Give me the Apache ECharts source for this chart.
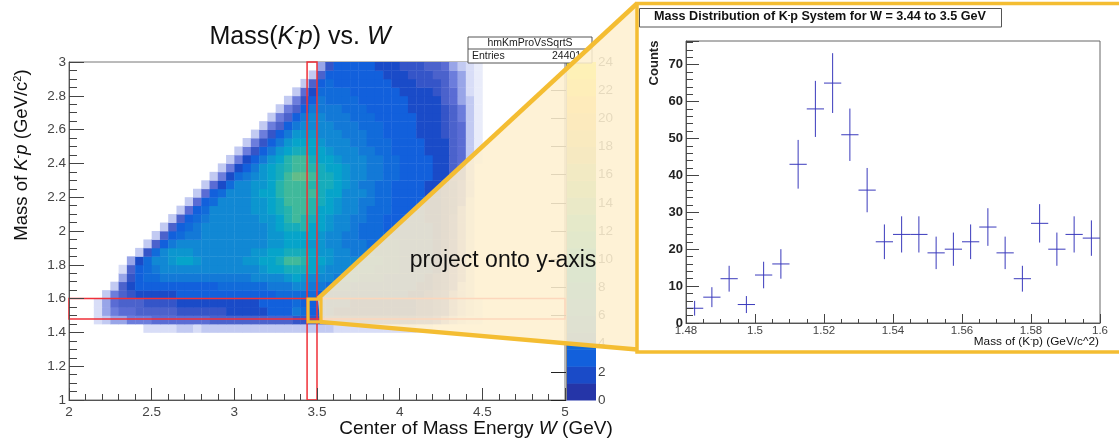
<!DOCTYPE html>
<html><head><meta charset="utf-8">
<style>html,body{margin:0;padding:0;background:#fff}#c{width:1119px;height:445px;filter:blur(0.45px)}</style>
<script src="https://cdn.jsdelivr.net/npm/echarts@6/dist/echarts.min.js"></script>
</head><body><div id="c"></div>
<script>
// ---------- histogram on the right ----------
const binLow = [1.48,1.485,1.49,1.495,1.5,1.505,1.51,1.515,1.52,1.525,1.53,1.535,1.54,1.545,1.55,1.555,1.56,1.565,1.57,1.575,1.58,1.585,1.59,1.595];
const counts = [4,7,12,5,13,16,43,58,65,51,36,22,24,24,19,20,22,26,19,12,27,20,24,23];
const errors = [2,2.7,3.5,2.3,3.6,4,6.6,7.6,8.1,7.1,6,4.7,4.9,4.9,4.4,4.5,4.7,5.1,4.4,3.5,5.2,4.5,4.9,4.8];
const BIN_W = 0.005;
// ---------- 2D density, read cell by cell; W starts at 2.00, steps 0.05 ----------
const massLow = [1.40,1.45,1.50,1.55,1.60,1.65,1.70,1.75,1.80,1.85,1.90,1.95,2.00,2.05,2.10,2.15,2.20,2.25,2.30,2.35,2.40,2.45,2.50,2.55,2.60,2.65,2.70,2.75,2.80,2.85,2.90,2.95];
const CELL = 0.05;
const density = [
[0,0,0,0,0,0,0,0,0,.2,.2,.2,.2,.3,.3,.2,.3,.3,.3,.3,.3,.3,.3,.3,.3,.3,.3,.3,.3,.3,.3,.3,.2,.2,.2,.2,.2,.2,.2,.2,.2,.2,.1,.1],
[0,0,0,.2,.3,.5,.5,.6,.6,.7,.8,.8,.8,.8,.9,.9,.9,1,1,1,1,1,1,1,1,1.2,1.2,1.5,1.5,1.5,1.5,1.2,1,1,1,1,1,1,1,1,1,1,.8,.8,.6,.4,.3,.2,.1,.1],
[0,0,0,.2,.5,.7,.9,.9,1,1.2,1.2,1.2,1.2,1.3,1.3,1.5,1.5,1.5,1.5,1.7,1.8,2,2,2,2.5,3,3.5,5,4,3,3,2.5,2,2,2,2,2,2,2,2,2,2,1.5,1.5,1,.8,.5,.3,.2,.1],
[0,0,0,.2,.5,.9,1,1.2,1.2,1.3,1.5,1.5,1.5,1.7,1.7,1.7,1.8,1.8,2,2,2,2.2,2.2,2.5,2.5,3,3.5,4,3.5,3,3,2.8,2.5,2.5,2.2,2.2,2,2,2,2,2,2,1.5,1.5,1,.8,.5,.3,.2,.1],
[0,0,0,0,.3,.7,1.2,1.5,1.7,2,2,2.2,2.2,2.5,2.5,2.5,2.7,2.7,2.7,3,3,3,3.2,3.2,3.5,4,4,4.5,4,4,3.5,3.2,3,3,3,3,2.8,2.8,2.5,2.5,2.5,2,2,1.5,1.2,.8,.5,.3,.2],
[0,0,0,0,0,.3,1,2,2.5,3,3.5,3.5,3.5,3.5,3.5,3.5,3.5,3.5,4,4,4,4,4,4.5,5,5,5.5,6,6,5.5,5,4.5,4,4,3.5,3.5,3.5,3,3,3,3,2.5,2,2,1.5,1,.6,.3,.2],
[0,0,0,0,0,0,.4,1.5,3,4,4.5,5,5,5,5,5,5,5,5,5.5,5.5,5.5,6,6,7,7,8,8.5,8,7,6.5,6,5.5,5,5,4.5,4,4,3.5,3.5,3,3,2.5,2,1.5,1,.7,.4,.2],
[0,0,0,0,0,0,.2,1,2.5,4.5,5.5,6,6.5,6.5,6.5,6,6,6,6,6,6.5,6.5,7,7.5,8.5,9,10,10.5,10,8.5,8,7,6.5,6,5.5,5,5,4.5,4,4,3.5,3,3,2.5,2,1,.7,.4,.2],
[0,0,0,0,0,0,0,.5,2,4,6,7,8,9,8.5,7.5,7,7,6.5,6.5,7,7.5,8,8.5,9.5,10,12,12.5,11,9,9,8,7,6.5,6,5.5,5,5,4.5,4,3.5,3,3,2.5,2,1.2,.8,.4,.2],
[0,0,0,0,0,0,0,0,.3,1.5,4,6,7.5,8,7.5,7,6.5,6.5,6.5,6.5,6.5,7,7.5,8,8.5,9,10,10.5,10,8.5,8,7.5,6.5,6,5.5,5,5,4.5,4,4,3.5,3,2.5,2.5,2,1.2,.8,.4,.2],
[0,0,0,0,0,0,0,0,0,.3,1.2,3.5,5,6,6,6,6,6,6,6,6,6.5,7,7,7.5,8,8.5,9,9,8,7.5,7,6.5,5.5,5,5,4.5,4.5,4,4,3.5,3,2.5,2.5,2,1.5,.8,.4,.2],
[0,0,0,0,0,0,0,0,0,0,.3,1,3,4.5,5.5,5.5,6,6,6,6,6,6,6.5,7,7.5,8,8.5,9.5,9.5,8.5,8,7,6.5,5.5,5,4.5,4.5,4,4,3.5,3.5,3,2.5,2.5,2,1.5,.8,.5,.2],
[0,0,0,0,0,0,0,0,0,0,0,.3,1,3,4.5,5.5,6,6,6,6,6.5,6.5,7,7,8,9,10,10.5,11,9.5,8.5,7.5,6.5,6,5,4.5,4.5,4,3.5,3.5,3,3,2.5,2.5,2,1.5,.8,.5,.2],
[0,0,0,0,0,0,0,0,0,0,0,0,.3,1,2.5,4.5,5.5,6,6,6,6.5,6.5,7,7.5,8,9.5,11,12,11.5,10,9,8,7,6,5.5,5,4.5,4,3.5,3.5,3,2.5,2.5,2,2,1.5,.9,.5,.2],
[0,0,0,0,0,0,0,0,0,0,0,0,0,.3,.8,2.5,4.5,6,6.5,6.5,7,7,7.5,8,9,10,11.5,12.5,12,11,9.5,8.5,7.5,6.5,6,5,4.5,4.5,4,3.5,3,3,2.5,2,2,1.5,1,.5,.2],
[0,0,0,0,0,0,0,0,0,0,0,0,0,0,.3,.8,2.5,4.5,6,6.5,7,7,7.5,8,9,10.5,12,12.5,12,11,10,9,8,7,6,5.5,5,4.5,4,3.5,3,3,2.5,2,2,1.5,1,.6,.2],
[0,0,0,0,0,0,0,0,0,0,0,0,0,0,0,.3,.8,2.5,4.5,6,7,7,7.5,8.5,9.5,11,12.5,13,12.5,12,10.5,9.5,8.5,7,6.5,6,5,4.5,4,3.5,3,2.5,2.5,2,2,1.5,1,.6,.3],
[0,0,0,0,0,0,0,0,0,0,0,0,0,0,0,0,.3,.8,2,4,6,7,7.5,8,9.5,11,12,13,12.5,11,10.5,10,9,7.5,6.5,5.5,5,4.5,4,3.5,3,2.5,2.5,2,2,1.5,1.2,.7,.3],
[0,0,0,0,0,0,0,0,0,0,0,0,0,0,0,0,0,.3,.7,2,4,5.5,7,8,9,10.5,12,13.5,13.5,12,10.5,10,9.5,8,7,6,5.5,5,4.5,4,3.5,3,2.5,2.5,2,2,1.2,.8,.3],
[0,0,0,0,0,0,0,0,0,0,0,0,0,0,0,0,0,0,.3,.7,2,3.5,5.5,7.5,8.5,10,11.5,13,13,11.5,10,9.5,8.5,7.5,7,6,5.5,5,4.5,4,3.5,3,2.5,2.5,2,2,1.2,.8,.3],
[0,0,0,0,0,0,0,0,0,0,0,0,0,0,0,0,0,0,0,.3,.7,1.8,3.5,5.5,8,9.5,11,12,12,10.5,9.5,9,8,7,6.5,6,5.5,5,4.5,4,3.5,3,2.5,2.5,2,2,1.2,.8,.3,.1],
[0,0,0,0,0,0,0,0,0,0,0,0,0,0,0,0,0,0,0,0,.3,.7,1.5,3.5,5.5,8,9.5,10,10.5,9.5,8.5,8,7,6.5,6,5.5,5,4.5,4,3.5,3,3,2.5,2,2,1.8,1.2,.8,.3,.1],
[0,0,0,0,0,0,0,0,0,0,0,0,0,0,0,0,0,0,0,0,0,.3,.7,1.5,3.5,5.5,8,9,9.5,8.5,7.5,7,6.5,6,5.5,5,4.5,4.5,4,3.5,3,2.5,2.5,2,2,1.8,1.2,.8,.3,.1],
[0,0,0,0,0,0,0,0,0,0,0,0,0,0,0,0,0,0,0,0,0,0,.3,.6,1.5,3,5.5,8,8,7.5,7,6.5,6,5.5,5,5,4.5,4,3.5,3,3,2.5,2,2,2,1.5,1.2,.8,.3,.1],
[0,0,0,0,0,0,0,0,0,0,0,0,0,0,0,0,0,0,0,0,0,0,0,.3,.6,1.2,3,5.5,7,6.5,6.5,6,5.5,5,5,4.5,4,4,3.5,3,2.5,2.5,2,2,2,1.5,1.2,.8,.3,.1],
[0,0,0,0,0,0,0,0,0,0,0,0,0,0,0,0,0,0,0,0,0,0,0,0,.3,.6,1.2,3,5,6,6,5.5,5,5,4.5,4.5,4,3.5,3.5,3,2.5,2.5,2,2,1.8,1.5,1,.6,.3,.1],
[0,0,0,0,0,0,0,0,0,0,0,0,0,0,0,0,0,0,0,0,0,0,0,0,0,.3,.6,1.2,3,5,5.5,5,5,4.5,4.5,4,3.5,3.5,3,3,2.5,2,2,2,1.8,1.5,1,.6,.3,.1],
[0,0,0,0,0,0,0,0,0,0,0,0,0,0,0,0,0,0,0,0,0,0,0,0,0,0,.3,.6,1.5,3.5,5,4.5,4.5,4,4,3.5,3.5,3,3,2.5,2.5,2,2,1.8,1.8,1.2,.9,.5,.3,.1],
[0,0,0,0,0,0,0,0,0,0,0,0,0,0,0,0,0,0,0,0,0,0,0,0,0,0,0,.3,.8,2,4,4.5,4,4,3.5,3.5,3,3,2.5,2.5,2,2,1.8,1.8,1.5,1.2,.8,.5,.2,.1],
[0,0,0,0,0,0,0,0,0,0,0,0,0,0,0,0,0,0,0,0,0,0,0,0,0,0,0,0,.3,1,2.5,4,3.5,3.5,3,3,3,2.5,2.5,2,2,2,1.5,1.5,1.5,1,.7,.4,.2,.1],
[0,0,0,0,0,0,0,0,0,0,0,0,0,0,0,0,0,0,0,0,0,0,0,0,0,0,0,0,0,.3,1,2.5,3,3,3,2.5,2.5,2.5,2,2,2,1.5,1.5,1.5,1.2,1,.6,.4,.2,.1],
[0,0,0,0,0,0,0,0,0,0,0,0,0,0,0,0,0,0,0,0,0,0,0,0,0,0,0,0,0,0,.5,1.5,2.5,2.5,2.5,2.5,2.5,2,2,2,1.5,1.5,1.5,1.2,1,.8,.5,.3,.2,.1]
];
// ---------- ROOT-style palette and colour bar ----------
const levelColors = ['#2535A8','#1A4BC8','#1260DC','#116BDA','#1379D7','#1188D4','#0C96CF','#06A4CA','#16ACBB','#26B3AC','#40B99B','#63BC89','#87BF77','#A5BD6B','#C2BC5F','#DABE51','#ECC342','#FEC832','#FCDC24','#FAF115'];
const LEVEL_W = 1.2;
const sparseStops = [.1,.2,.3,.5,.7,.9,1.2,1.6];
const sparseColors = ['#e9ecfa','#d8ddf7','#c2caf2','#98a5e8','#6c7ddc','#5a6cd4','#4b62cc','#3555c8'];
const levelIndex = levelColors.map((c,i)=>i);
// ---------- ranges and highlight boxes ----------
const wBand = [3.44,3.5];
const massBand = [1.48,1.6];
const massRange = [1,3];
const wRange = [2,5];

function cellColor(v){
  for(let i=0;i<sparseStops.length;i++) if(v<=sparseStops[i]) return sparseColors[i];
  return levelColors[Math.min(levelColors.length-1,Math.floor(v/LEVEL_W))];
}
const heatData=[];
density.forEach((row,r)=>row.forEach((v,c)=>{ if(v>0) heatData.push([2+c*CELL,massLow[r],v]); }));

const FONT='"Liberation Sans",Arial,Helvetica,sans-serif';
const axisGray='#444';
function rectClip(params,api,a,b,style){
  const p0=api.coord(a),p1=api.coord(b);
  return {type:'rect',shape:{x:p0[0],y:p1[1],width:p1[0]-p0[0],height:p0[1]-p1[1]},style};
}
const chart=echarts.init(document.getElementById('c'),null,{renderer:'canvas'});
const option={
  animation:false,
  backgroundColor:'#fff',
  textStyle:{fontFamily:FONT},
  title:{
    left:295,top:20,textAlign:'center',
    text:'{a|Mass(}{i|K}{s|-}{i|p}{a|) vs. }{i|W}',
    textStyle:{fontWeight:'normal',rich:{
      a:{fontSize:25,fontWeight:'normal',fontFamily:FONT,color:'#111'},
      i:{fontSize:25,fontWeight:'normal',fontFamily:FONT,fontStyle:'italic',color:'#111'},
      s:{fontSize:14,fontWeight:'normal',fontFamily:FONT,color:'#111',verticalAlign:'top',padding:[0,0,8,0]}
    }}
  },
  grid:[
    {left:69,top:62,width:496,height:338,show:true,borderColor:'#777',borderWidth:1,backgroundColor:'#fff'},
    {left:566,top:62,width:30,height:338},
    {left:686,top:41,width:414,height:282,show:true,borderColor:'#666',borderWidth:1,backgroundColor:'#fff'}
  ],
  xAxis:[
    {gridIndex:0,type:'value',min:wRange[0],max:wRange[1],interval:.5,z:5,splitLine:{show:false},
     axisLine:{lineStyle:{color:'#555'}},axisTick:{inside:true,length:12,lineStyle:{color:'#444'}},
     minorTick:{show:true,splitNumber:5,length:6,lineStyle:{color:'#444'}},
     axisLabel:{fontSize:13.5,color:axisGray,margin:5,fontFamily:FONT,showMinLabel:true,showMaxLabel:true}},
    {gridIndex:1,type:'value',min:0,max:1,show:false},
    {gridIndex:2,type:'value',min:1.48,max:1.6,interval:.02,z:5,splitLine:{show:false},
     axisLine:{lineStyle:{color:'#555'}},axisTick:{inside:true,length:9,lineStyle:{color:'#444'}},
     minorTick:{show:true,splitNumber:4,length:4,lineStyle:{color:'#444'}},
     axisLabel:{fontSize:11.5,color:axisGray,margin:2,fontFamily:FONT,showMinLabel:true,showMaxLabel:true,
       formatter:v=>String(+v.toFixed(2))}}
  ],
  yAxis:[
    {gridIndex:0,type:'value',min:massRange[0],max:massRange[1],interval:.2,z:5,splitLine:{show:false},
     axisLine:{lineStyle:{color:'#555'}},axisTick:{inside:true,length:15,lineStyle:{color:'#444'}},
     minorTick:{show:true,splitNumber:4,length:8,lineStyle:{color:'#444'}},
     axisLabel:{fontSize:13.5,color:axisGray,margin:3,fontFamily:FONT,showMinLabel:true,showMaxLabel:true,
       formatter:v=>String(+v.toFixed(1))}},
    {gridIndex:1,type:'value',position:'right',min:0,max:24,interval:2,z:5,splitLine:{show:false},
     axisLine:{lineStyle:{color:'#888'}},axisTick:{inside:true,length:15,lineStyle:{color:'#222',width:1}},
     axisLabel:{fontSize:13.5,color:axisGray,margin:2,fontFamily:FONT}},
    {gridIndex:2,type:'value',min:0,max:76.4,interval:10,z:5,splitLine:{show:false},
     axisLine:{lineStyle:{color:'#555'}},axisTick:{inside:true,length:13,lineStyle:{color:'#444'}},
     minorTick:{show:true,splitNumber:5,length:7,lineStyle:{color:'#444'}},
     axisLabel:{fontSize:13,fontWeight:'bold',color:'#222',margin:3,fontFamily:FONT,showMinLabel:true,
       formatter:v=>v>76?'':String(v)}}
  ],
  series:[
    {type:'custom',name:'density',xAxisIndex:0,yAxisIndex:0,silent:true,z:2,data:heatData,clip:true,
     encode:{x:0,y:1},
     renderItem(params,api){
       const w=api.value(0),m=api.value(1),v=api.value(2);
       const a=api.coord([w,m]),b=api.coord([w+CELL,m+CELL]);
       return {type:'rect',shape:{x:a[0],y:b[1],width:b[0]-a[0]+.4,height:a[1]-b[1]+.4},style:{fill:cellColor(v)}};
     }},
    {type:'custom',name:'mass band',xAxisIndex:0,yAxisIndex:0,silent:true,z:3,
     data:[[wRange[0],massBand[0],wRange[1],massBand[1]],[wBand[0],massRange[0],wBand[1],massRange[1]]],
     encode:{x:[0,2],y:[1,3]},
     renderItem(params,api){
       return rectClip(params,api,[api.value(0),api.value(1)],[api.value(2),api.value(3)],{fill:'none',stroke:'#f03038',lineWidth:1.5});
     }},
    {type:'custom',name:'palette',xAxisIndex:1,yAxisIndex:1,silent:true,z:2,data:levelIndex.map(i=>[i]),
     renderItem(params,api){
       const i=api.value(0);
       const a=api.coord([0,i*LEVEL_W]),b=api.coord([1,(i+1)*LEVEL_W]);
       return {type:'rect',shape:{x:a[0],y:b[1],width:b[0]-a[0],height:a[1]-b[1]+.5},style:{fill:levelColors[i]}};
     }},
    {type:'custom',name:'counts',xAxisIndex:2,yAxisIndex:2,silent:true,z:3,
     data:binLow.map((x,i)=>[x,counts[i],errors[i]]),encode:{x:0,y:1},
     renderItem(params,api){
       const x=api.value(0),y=api.value(1),e=api.value(2);
       const l=api.coord([x,y]),r=api.coord([x+BIN_W,y]);
       const t=api.coord([x+BIN_W/2,y+e]),d=api.coord([x+BIN_W/2,y-e]);
       const st={stroke:'#3a3abc',lineWidth:1,fill:'none'};
       return {type:'group',children:[
         {type:'line',shape:{x1:l[0],y1:l[1],x2:r[0],y2:r[1]},style:st},
         {type:'line',shape:{x1:t[0],y1:t[1],x2:d[0],y2:d[1]},style:st}
       ]};
     }}
  ]
};
chart.setOption(option);

const gp=(x,y)=>chart.convertToPixel({xAxisIndex:0,yAxisIndex:0},[x,y]);
const boxA=gp(wBand[0],massBand[1]),boxB=gp(wBand[1],massBand[0]);
const callTop=[boxB[0]+1,boxA[1]],callBot=[boxB[0]+3,boxB[1]+3];
const frame={x:637,y:3.5,r:1125,b:352};
const GOLD='#F4BD32';
const rich=(size,w)=>({
  n:{fontSize:size,fontFamily:FONT,fontWeight:w||'normal',fill:'#111',color:'#111'},
  i:{fontSize:size,fontFamily:FONT,fontWeight:w||'normal',fontStyle:'italic',fill:'#111',color:'#111'},
  s:{fontSize:size*.6,fontFamily:FONT,fontWeight:w||'normal',verticalAlign:'top',fill:'#111',color:'#111'}
});
chart.setOption({graphic:{elements:[
  {type:'text',z:20,x:22,y:155,rotation:Math.PI/2,style:{text:'{n|Mass of }{i|K}{s|-}{i|p}{n| (GeV/c}{s|2}{n|)}',rich:rich(18.5),align:'center',verticalAlign:'middle',fontFamily:FONT}},
  {type:'text',z:20,x:476,y:429,style:{text:'{n|Center of Mass Energy }{i|W}{n| (GeV)}',rich:rich(19),align:'center',verticalAlign:'middle',fontFamily:FONT}},
  // stats box
  {type:'rect',z:30,shape:{x:468,y:37,width:124,height:26},style:{fill:'#fff',stroke:'#555',lineWidth:1}},
  {type:'line',z:30,shape:{x1:468,y1:49,x2:592,y2:49},style:{stroke:'#555',lineWidth:1}},
  {type:'text',z:31,x:530,y:43,style:{text:'hmKmProVsSqrtS',fontSize:10.5,fontFamily:FONT,fill:'#222',align:'center',verticalAlign:'middle'}},
  {type:'text',z:31,x:472,y:56,style:{text:'Entries',fontSize:10.5,fontFamily:FONT,fill:'#222',verticalAlign:'middle'}},
  {type:'text',z:31,x:552,y:56,style:{text:'24401',fontSize:10.5,fontFamily:FONT,fill:'#222',verticalAlign:'middle'}},
  // callout
  {type:'polygon',z:50,shape:{points:[callTop,[frame.x,frame.y],[frame.x,349.5],callBot]},style:{fill:'rgba(254,240,208,0.87)'}},
  {type:'line',z:60,shape:{x1:callTop[0],y1:callTop[1],x2:frame.x,y2:frame.y},style:{stroke:GOLD,lineWidth:4.5}},
  {type:'line',z:60,shape:{x1:callBot[0],y1:callBot[1],x2:frame.x,y2:349.5},style:{stroke:GOLD,lineWidth:4.5}},
  {type:'rect',z:60,shape:{x:boxA[0]+1,y:boxA[1]+.5,width:boxB[0]-boxA[0]+3,height:boxB[1]-boxA[1]+2.5},style:{fill:'none',stroke:GOLD,lineWidth:3.2}},
  {type:'rect',z:60,shape:{x:frame.x,y:frame.y,width:frame.r-frame.x,height:frame.b-frame.y},style:{fill:'none',stroke:GOLD,lineWidth:3.5}},
  {type:'text',z:70,x:503,y:261,style:{text:'project onto y-axis',fontSize:23,fontFamily:FONT,fill:'#111',align:'center',verticalAlign:'middle'}},
  // histogram title and labels
  {type:'rect',z:30,shape:{x:639.5,y:8.5,width:362,height:18.5},style:{fill:'#fff',stroke:'#555',lineWidth:1}},
  {type:'text',z:31,x:820,y:17,style:{text:'{n|Mass Distribution of K}{s|-}{n|p System for W = 3.44 to 3.5 GeV}',rich:rich(12.6,'bold'),align:'center',verticalAlign:'middle',fontFamily:FONT}},
  {type:'text',z:31,x:654,y:63,rotation:Math.PI/2,style:{text:'Counts',fontSize:13,fontWeight:'bold',fontFamily:FONT,fill:'#222',align:'center',verticalAlign:'middle'}},
  {type:'text',z:31,x:1099,y:342,style:{text:'{n|Mass of (K}{s|-}{n|p) (GeV/c^2)}',rich:rich(11.8),align:'right',verticalAlign:'middle',fontFamily:FONT}}
]}});
</script></body></html>
